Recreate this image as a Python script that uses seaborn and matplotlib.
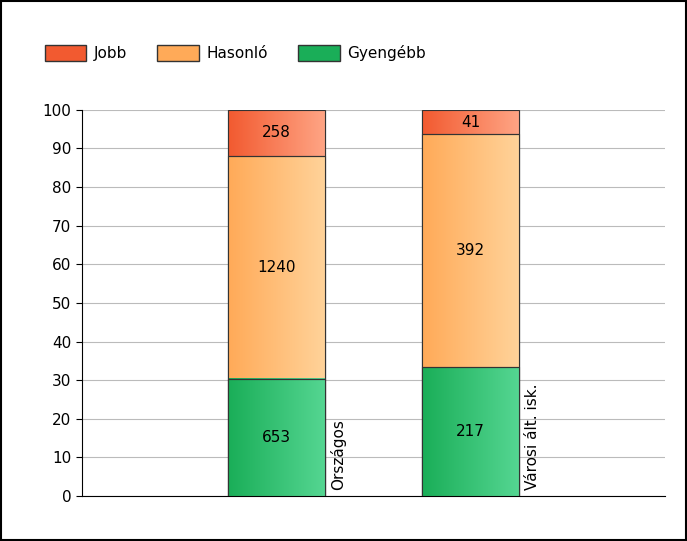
import numpy as np
import pandas as pd
import matplotlib
matplotlib.use("Agg")
import matplotlib.pyplot as plt
import seaborn as sns
from matplotlib.patches import Patch, Rectangle

categories = ["Országos", "Városi ált. isk."]
series = ["Jobb", "Hasonló", "Gyengébb"]
gyengebb = [653, 217]
hasonlo = [1240, 392]
jobb = [258, 41]

cols = {"Gyengébb": ("#1aae58", "#55d692"), "Hasonló": ("#ffaa58", "#ffd39a"), "Jobb": ("#f25a30", "#ffa585")}

tot = np.array(gyengebb) + np.array(hasonlo) + np.array(jobb)
pg = np.array(gyengebb) / tot * 100
ph = np.array(hasonlo) / tot * 100
pj = np.array(jobb) / tot * 100

fig = plt.figure(figsize=(6.87, 5.41), dpi=100)
fig.patches.append(Rectangle((0.002, 0.002), 0.996, 0.996, transform=fig.transFigure, fill=False, ec="black", lw=1.5))
ax = fig.add_axes([0.119, 0.083, 0.849, 0.714])

layers = [("Jobb", pg + ph + pj, pj), ("Hasonló", pg + ph, ph), ("Gyengébb", pg, pg)]
for name, top, _ in layers:
    df = pd.DataFrame({"cat": categories, "v": top})
    sns.barplot(data=df, x="cat", y="v", order=categories, color=cols[name][0], width=0.5,
                ax=ax, edgecolor="#333333", linewidth=0.8, zorder=2)

grad = np.linspace(0, 1, 100).reshape(1, -1)
for name, top, seg in layers:
    c0 = np.array(matplotlib.colors.to_rgb(cols[name][0]))
    c1 = np.array(matplotlib.colors.to_rgb(cols[name][1]))
    img = c0[None, None, :] * (1 - grad[..., None]) + c1[None, None, :] * grad[..., None]
    for i in range(len(categories)):
        ax.imshow(img, extent=[i - 0.25, i + 0.25, top[i] - seg[i], top[i]], aspect="auto", zorder=3)
        ax.add_patch(Rectangle((i - 0.25, top[i] - seg[i]), 0.5, seg[i], fill=False, ec="#333333", lw=0.8, zorder=4))

vals = {"Jobb": jobb, "Hasonló": hasonlo, "Gyengébb": gyengebb}
for name, top, seg in layers:
    for i in range(len(categories)):
        ax.text(i, top[i] - seg[i] / 2, str(vals[name][i]), ha="center", va="center", fontsize=11, zorder=5)
for i, c in enumerate(categories):
    ax.text(i + 0.32, 1.5, c, rotation=90, ha="center", va="bottom", fontsize=11)

ax.set_xlim(-1, 2)
ax.set_ylim(0, 100)
ax.set_yticks(range(0, 101, 10))
ax.tick_params(axis="y", labelsize=11, length=4)
ax.set_xticks([])
ax.set_xlabel("")
ax.set_ylabel("")
ax.yaxis.grid(True, color="#bbbbbb", lw=0.8, zorder=0)
ax.set_axisbelow(True)
for s in ["top", "right"]:
    ax.spines[s].set_visible(False)

handles = [Patch(facecolor=cols[n][0], edgecolor="#333333", label=n) for n in series]
fig.legend(handles=handles, loc="center left", bbox_to_anchor=(0.045, 0.902), ncol=3, frameon=False,
           fontsize=11, handlelength=2.7, handleheight=1.2, columnspacing=2.0, handletextpad=0.5)
fig.savefig("out.png", dpi=100)
